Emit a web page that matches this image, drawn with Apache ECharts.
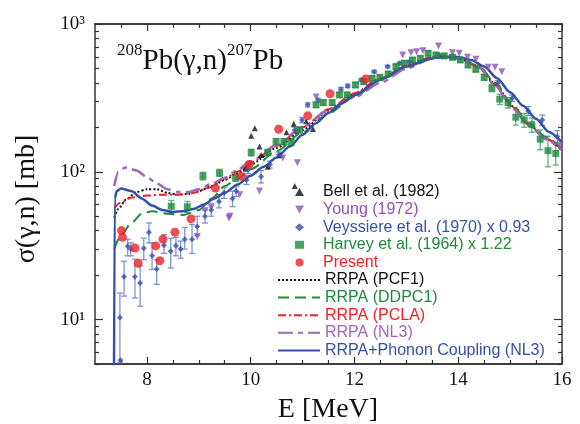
<!DOCTYPE html>
<html>
<head>
<meta charset="utf-8">
<script src="https://cdn.jsdelivr.net/npm/echarts@6/dist/echarts.min.js"></script>
<style>
html, body { margin: 0; padding: 0; background: #fff; }
#chart { width: 580px; height: 424px; }
</style>
</head>
<body>
<div id="chart"></div>
<script>
// axis ranges and tick labels
var xMin = 7, xMax = 16;
var yMin = 5, yMax = 1000;
var xMajorTicks = [8, 10, 12, 14, 16];
var xMinorTicks = [7.5, 8.5, 9, 9.5, 10.5, 11, 11.5, 12.5, 13, 13.5, 14.5, 15, 15.5];
var yMajorTicks = [10, 100, 1000];
var yMinorTicks = [5, 6, 7, 8, 9, 20, 30, 40, 50, 60, 70, 80, 90, 200, 300, 400, 500, 600, 700, 800, 900];

// measured data [E, sigma]
var bell = [[9.9, 105], [10.01, 175], [10.08, 197], [10.17, 148], [10.2, 130], [10.33, 108],
    [10.57, 130], [10.69, 185], [10.83, 211], [10.85, 80], [11.07, 220], [11.2, 195]];

var young = [[8.97, 36.5], [9.12, 54.5], [9.24, 57], [9.58, 48.6], [9.6, 50], [9.79, 70], [10.17, 74],
    [10.62, 124], [10.9, 115], [11.26, 320], [12.93, 617], [13.09, 640], [13.2, 650], [13.32, 660],
    [13.62, 710], [13.89, 640], [14.02, 634], [14.18, 595], [14.34, 578], [14.58, 510], [14.71, 510],
    [14.84, 476], [15.95, 148]];

// [E, sigma, low, high]
var veyssiere = [[7.48, 10.3, 5.1, 15.1], [7.49, 5.3, 5.3, 5.3], [7.56, 19.5, 14.4, 24.8],
    [7.63, 31.3, 27, 35], [7.69, 30, 27, 33], [7.77, 19.5, 14, 25.6], [7.87, 17.7, 12.3, 23],
    [7.94, 30.4, 25.4, 35.5], [8.04, 39, 33, 45], [8.1, 27, 21.8, 33], [8.19, 22, 17.3, 25.4],
    [8.33, 31.8, 28, 37.5], [8.46, 29, 22.3, 35.5], [8.56, 31.6, 27, 36], [8.65, 30, 26, 34],
    [8.73, 35, 30, 42], [8.87, 35, 28, 44], [8.97, 42.6, 37, 50], [9.12, 50, 45, 55],
    [9.24, 55, 50, 61], [9.39, 63, 57, 70], [9.49, 72, 66, 78], [9.65, 66, 58, 74],
    [9.72, 74, 68, 80], [9.92, 88, 82, 94], [9.95, 103, 97, 109], [10.2, 93, 84, 102],
    [10.37, 112, 106, 118], [10.54, 130, 124, 136], [10.85, 192, 184, 200], [10.99, 224, 215, 233],
    [11.1, 284, 275, 293], [11.3, 305, 295, 315], [11.74, 362, 352, 372], [11.87, 381, 371, 391],
    [12.13, 418, 408, 428], [12.38, 476, 466, 486], [12.64, 515, 505, 525], [12.87, 543, 533, 553],
    [13.06, 556, 546, 566], [13.63, 617, 607, 627], [14.76, 397, 380, 414], [15.04, 314, 298, 330],
    [15.35, 258, 240, 276], [15.62, 224, 206, 242], [15.91, 173, 158, 190]];

var harvey = [[8.47, 58.5, 53, 64], [8.78, 58, 53, 63], [9.08, 93.6, 88, 99], [9.4, 98, 93, 104],
    [9.71, 91, 86, 96], [10.01, 135, 128, 142], [10.33, 135, 128, 142], [10.49, 160, 152, 168],
    [10.64, 160, 152, 168], [10.78, 158, 150, 166], [10.94, 192, 183, 201], [11.26, 284, 272, 296],
    [11.4, 294, 282, 306], [11.57, 294, 282, 306], [11.71, 331, 318, 344], [11.86, 331, 318, 344],
    [12.02, 387, 372, 402], [12.18, 407, 392, 422], [12.34, 429, 413, 445], [12.49, 436, 420, 452],
    [12.65, 459, 442, 476], [12.8, 515, 496, 534], [12.96, 543, 523, 563], [13.12, 571, 550, 592],
    [13.27, 586, 565, 607], [13.42, 634, 611, 657], [13.57, 617, 595, 639], [13.73, 608, 586, 630],
    [13.89, 595, 574, 616], [14.04, 571, 550, 592], [14.19, 528, 508, 548], [14.34, 494, 474, 514],
    [14.5, 436, 415, 457], [14.65, 368, 348, 388], [14.8, 310, 285, 335], [14.96, 294, 270, 318],
    [15.11, 234, 207, 262], [15.27, 224, 200, 248], [15.42, 208, 185, 231], [15.58, 166, 141, 192],
    [15.73, 139, 108, 174], [15.88, 133, 111, 157]];

var present = [[7.51, 40], [7.53, 36], [7.77, 30.5], [7.83, 24], [8.17, 31.5], [8.25, 25], [8.31, 35],
    [8.54, 39], [8.85, 48], [9.32, 77.5], [9.82, 93], [9.97, 112], [10.54, 194], [11.1, 239],
    [11.53, 337], [12.22, 425]];

// calculated curves [E, sigma]
var pcf1 = [[7.37, 49], [7.45, 56], [7.6, 65], [7.8, 73], [8.0, 76], [8.2, 76], [8.4, 72], [8.6, 70],
    [8.8, 71], [9.0, 74], [9.25, 80], [9.5, 88], [9.75, 98], [10.0, 112], [10.5, 145], [11.0, 192],
    [11.5, 260], [12.0, 335], [12.5, 425], [13.0, 520], [13.5, 595], [13.75, 605], [14.0, 588],
    [14.4, 515], [14.72, 390], [15.04, 278], [15.37, 208], [15.69, 168], [16.0, 140]];

var ddpc1 = [[7.37, 30], [7.5, 37], [7.7, 45], [7.9, 52], [8.1, 54], [8.4, 52], [8.7, 51], [9.0, 55],
    [9.25, 66], [9.5, 80], [9.75, 90], [10.0, 104], [10.5, 138], [11.0, 185], [11.5, 248],
    [12.0, 322], [12.5, 418], [13.0, 518], [13.5, 595], [13.75, 606], [14.0, 592], [14.4, 520],
    [14.72, 398], [15.04, 285], [15.37, 212], [15.69, 172], [16.0, 143]];

var pcla = [[7.37, 57], [7.5, 62], [7.7, 67], [8.0, 69], [8.3, 70], [8.6, 70], [8.9, 72], [9.2, 78],
    [9.5, 90], [9.75, 100], [10.0, 115], [10.5, 150], [11.0, 200], [11.5, 265], [12.0, 340],
    [12.5, 430], [13.0, 525], [13.5, 600], [13.75, 604], [14.0, 585], [14.4, 512], [14.72, 385],
    [15.04, 274], [15.37, 206], [15.69, 168], [16.0, 141]];

var nl3 = [[7.37, 80], [7.45, 100], [7.58, 107], [7.8, 102], [8.0, 92], [8.2, 83], [8.4, 76],
    [8.6, 73], [8.8, 73], [9.0, 76], [9.25, 83], [9.5, 91], [9.75, 103], [10.0, 118], [10.5, 152],
    [11.0, 200], [11.5, 262], [12.0, 320], [12.5, 400], [13.0, 500], [13.5, 585], [13.75, 600],
    [14.0, 582], [14.4, 508], [14.72, 380], [15.04, 270], [15.37, 204], [15.69, 166], [16.0, 139]];

var phonon = [[7.36, 1], [7.38, 66], [7.42, 74], [7.5, 77], [7.7, 74], [7.9, 66], [8.1, 59], [8.3, 55],
    [8.5, 53.5], [8.7, 54], [8.9, 56], [9.1, 60], [9.3, 66], [9.5, 72], [9.75, 82], [10.0, 94],
    [10.25, 108], [10.5, 125], [10.75, 148], [11.0, 178], [11.25, 212], [11.5, 250], [11.75, 290],
    [12.0, 330], [12.5, 420], [13.0, 515], [13.5, 585], [13.75, 600], [14.0, 598], [14.25, 570],
    [14.5, 515], [14.75, 430], [15.0, 345], [15.25, 280], [15.5, 228], [15.75, 186], [16.0, 158]];

var names = ['Bell et al. (1982)', 'Young (1972)', 'Veyssiere et al. (1970) x 0.93',
    'Harvey et al. (1964) x 1.22', 'Present', 'RRPA (PCF1)', 'RRPA (DDPC1)', 'RRPA (PCLA)',
    'RRPA (NL3)', 'RRPA+Phonon Coupling (NL3)'];
var colors = ['#111111', '#8e52b6', '#3550a8', '#1f8a3e', '#ec2227', '#111111', '#1f8a3e',
    '#ec2227', '#a066b8', '#3550a8'];

var serif = '"Liberation Serif", "Times New Roman", serif';
var sans = '"Liberation Sans", Arial, sans-serif';
var sup = {1: '\u00b9', 2: '\u00b2', 3: '\u00b3'};
var axisColor = '#333';
var downTriangle = 'path://M0,0L10,0L5,9Z';

function log10s(arr) {
    return arr.map(function(v) { return Math.log10(v); });
}

// vertical error bar with caps, values taken from columns 2 and 3
function errBar(params, api) {
    var x = api.value(0), lo = api.value(2), hi = api.value(3);
    if (!(hi > lo)) return;
    var p1 = api.coord([x, lo]);
    var p2 = api.coord([x, hi]);
    var w = 3;
    var st = {stroke: api.visual('color'), lineWidth: 1.3};
    return {
        type: 'group',
        children: [
            {type: 'line', shape: {x1: p1[0], y1: p1[1], x2: p2[0], y2: p2[1]}, style: st},
            {type: 'line', shape: {x1: p1[0] - w, y1: p1[1], x2: p1[0] + w, y2: p1[1]}, style: st},
            {type: 'line', shape: {x1: p2[0] - w, y1: p2[1], x2: p2[0] + w, y2: p2[1]}, style: st}
        ]
    };
}

function xAxisDef(pos, ticks, len, labels) {
    return {
        type: 'value', position: pos, min: xMin, max: xMax,
        axisLine: {show: true, onZero: false, lineStyle: {color: axisColor, width: 1.5}},
        axisTick: {show: true, inside: true, length: len, customValues: ticks,
            lineStyle: {color: axisColor, width: 1.2}},
        axisLabel: {show: labels, customValues: xMajorTicks, margin: 7, color: '#111',
            fontFamily: serif, fontSize: 19},
        splitLine: {show: false}
    };
}

function yTickAxis(pos, ticks, len, labels) {
    return {
        type: 'value', position: pos, min: Math.log10(yMin), max: Math.log10(yMax),
        axisLine: {show: false},
        axisTick: {show: true, inside: true, length: len, customValues: log10s(ticks),
            lineStyle: {color: axisColor, width: 1.2}},
        axisLabel: {show: labels, customValues: log10s(yMajorTicks), margin: 10, color: '#111',
            fontFamily: serif, fontSize: 19,
            formatter: function(v) { return '10' + sup[Math.round(v)]; }},
        splitLine: {show: false}
    };
}

function lineSeries(name, data, color, type, width) {
    return {
        name: name, type: 'line', data: data, symbol: 'none', smooth: 0.25,
        smoothMonotone: 'x', clip: true, z: 3,
        lineStyle: {color: color, type: type, width: width},
        itemStyle: {color: color}
    };
}

// two legends: symbols (narrow icon, padded text) and lines (wide icon)
var rowH = 17.6;
var pointLegend = names.slice(0, 5).map(function(n, i) {
    var item = {name: n, textStyle: {color: colors[i]}};
    if (i === 1) item.icon = downTriangle;
    return item;
});
var lineLegend = names.slice(5).map(function(n, i) {
    return {name: n, textStyle: {color: colors[i + 5]},
        itemStyle: {color: 'rgba(0,0,0,0)', opacity: 0, borderWidth: 0}};
});

var option = {
    animation: false,
    backgroundColor: '#fff',
    grid: {left: 95, top: 24, right: 18, bottom: 60, outerBoundsMode: 'none'},
    xAxis: [
        xAxisDef('bottom', xMajorTicks, 7, true),
        xAxisDef('bottom', xMinorTicks, 4, false),
        xAxisDef('top', xMajorTicks, 7, false),
        xAxisDef('top', xMinorTicks, 4, false)
    ],
    yAxis: [
        {
            type: 'log', position: 'left', min: yMin, max: yMax, logBase: 10,
            axisLine: {show: true, onZero: false, lineStyle: {color: axisColor, width: 1.5}},
            axisTick: {show: false}, axisLabel: {show: false}, splitLine: {show: false}
        },
        yTickAxis('left', yMajorTicks, 8, true),
        yTickAxis('left', yMinorTicks, 4, false),
        Object.assign(yTickAxis('right', yMajorTicks, 8, false),
            {axisLine: {show: true, onZero: false, lineStyle: {color: axisColor, width: 1.5}}}),
        yTickAxis('right', yMinorTicks, 4, false)
    ],
    legend: [
        {
            orient: 'vertical', left: 290, top: 179,
            itemWidth: 9, itemHeight: 8, itemGap: rowH - 16,
            selectedMode: false,
            textStyle: {fontFamily: sans, fontSize: 16, padding: [0, 0, 0, 14]},
            data: pointLegend
        },
        {
            orient: 'vertical', left: 272, top: 179 + 5 * rowH,
            itemWidth: 42, itemHeight: 8, itemGap: rowH - 16,
            selectedMode: false,
            textStyle: {fontFamily: sans, fontSize: 16},
            data: lineLegend
        }
    ],
    graphic: [
        {
            type: 'text', left: 117, top: 42,
            style: {
                text: '{s|208}{m|Pb(\u03b3,n)}{s|207}{m|Pb}',
                fill: '#111',
                rich: {
                    s: {fontFamily: serif, fontSize: 17, lineHeight: 18, verticalAlign: 'top'},
                    m: {fontFamily: serif, fontSize: 29, lineHeight: 34, verticalAlign: 'bottom'}
                }
            }
        },
        {
            type: 'text', x: 27, y: 199, rotation: Math.PI / 2,
            style: {
                text: '\u03c3(\u03b3,n) [mb]', fill: '#111',
                fontFamily: serif, fontSize: 28,
                align: 'center', verticalAlign: 'middle'
            }
        },
        {
            type: 'text', x: 328, y: 410,
            style: {
                text: 'E [MeV]', fill: '#111',
                fontFamily: serif, fontSize: 28,
                align: 'center', verticalAlign: 'middle'
            }
        }
    ],
    series: [
        {
            name: 'veyErr', type: 'custom', renderItem: errBar, data: veyssiere,
            encode: {x: 0, y: [2, 3]}, itemStyle: {color: '#7f93d4'}, z: 1, clip: true
        },
        {
            name: 'harErr', type: 'custom', renderItem: errBar, data: harvey,
            encode: {x: 0, y: [2, 3]}, itemStyle: {color: '#5fae78'}, z: 1, clip: true
        },
        lineSeries(names[5], pcf1, colors[5], [2, 2], 2),
        lineSeries(names[6], ddpc1, colors[6], [11, 6], 2),
        lineSeries(names[7], pcla, colors[7], [8, 3, 2, 3], 2),
        lineSeries(names[8], nl3, colors[8], [15, 5, 5, 5], 2.5),
        lineSeries(names[9], phonon, colors[9], 'solid', 2.5),
        {
            name: names[0], type: 'scatter', data: bell, symbol: 'triangle', symbolSize: 6,
            itemStyle: {color: colors[0]}, z: 4
        },
        {
            name: names[1], type: 'scatter', data: young, symbol: 'triangle', symbolRotate: 180,
            symbolSize: 7, itemStyle: {color: colors[1]}, z: 4
        },
        {
            name: names[2], type: 'scatter', symbol: 'diamond', symbolSize: 6,
            data: veyssiere.map(function(d) { return [d[0], d[1]]; }),
            itemStyle: {color: colors[2]}, z: 4
        },
        {
            name: names[3], type: 'scatter', symbol: 'rect', symbolSize: 7,
            data: harvey.map(function(d) { return [d[0], d[1]]; }),
            itemStyle: {color: colors[3]}, z: 4
        },
        {
            name: names[4], type: 'scatter', data: present, symbol: 'circle', symbolSize: 9,
            itemStyle: {color: colors[4]}, z: 5
        }
    ]
};

var chart = echarts.init(document.getElementById('chart'));
chart.setOption(option);
</script>
</body>
</html>
